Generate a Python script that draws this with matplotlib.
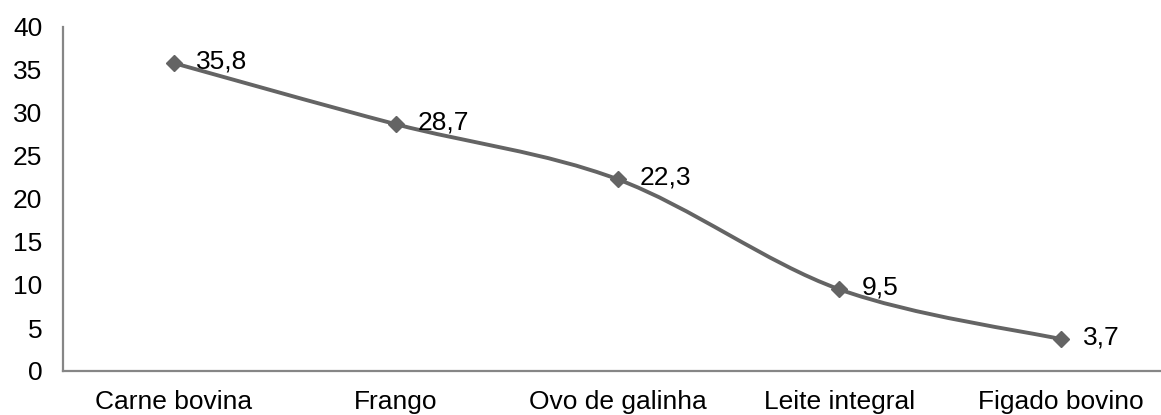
"""Line chart: smoothed series with value labels."""

import matplotlib

matplotlib.use("Agg")
import matplotlib.pyplot as plt
import numpy as np
from matplotlib.patches import PathPatch
from matplotlib.path import Path

plt.rcParams["font.family"] = ["Liberation Sans", "DejaVu Sans"]

categories = ["Carne bovina", "Frango", "Ovo de galinha", "Leite integral", "Figado bovino"]
values = [35.8, 28.7, 22.3, 9.5, 3.7]
value_labels = ["35,8", "28,7", "22,3", "9,5", "3,7"]

LINE = "#646464"
SPINE = "#868686"
FS = 19

fig = plt.figure(figsize=(11.61, 4.15), dpi=100)
ax = fig.add_axes([63 / 1161, 1 - 371 / 415, (1172 - 63) / 1161, (371 - 27) / 415])

x = np.arange(len(values), dtype=float)
y = np.array(values, dtype=float)

# Excel-style smoothing: cubic Bezier through points (Catmull-Rom controls)
verts = [(x[0], y[0])]
codes = [Path.MOVETO]
n = len(x)
for i in range(n - 1):
    p0 = np.array([x[max(i - 1, 0)], y[max(i - 1, 0)]])
    p1 = np.array([x[i], y[i]])
    p2 = np.array([x[i + 1], y[i + 1]])
    p3 = np.array([x[min(i + 2, n - 1)], y[min(i + 2, n - 1)]])
    c1 = p1 + (p2 - p0) / 6
    c2 = p2 - (p3 - p1) / 6
    verts += [tuple(c1), tuple(c2), tuple(p2)]
    codes += [Path.CURVE4] * 3
ax.add_patch(PathPatch(Path(verts, codes), facecolor="none", edgecolor=LINE, lw=2.8,
                       capstyle="round", joinstyle="round", zorder=2))
ax.plot(x, y, linestyle="none", marker="D", markersize=8, color=LINE, zorder=3)

for xi, yi, lab in zip(x, y, value_labels):
    ax.annotate(lab, (xi, yi), xytext=(16, 1), textcoords="offset points",
                ha="left", va="center", fontsize=FS, color="black")

ax.set_xlim(-0.5, n - 0.5)
ax.set_ylim(0, 40)
ax.set_yticks(range(0, 41, 5))
ax.set_xticks(x, categories)
ax.tick_params(axis="both", length=0, labelsize=FS, colors="black")
ax.tick_params(axis="y", pad=15)
ax.tick_params(axis="x", pad=13.5)
for side in ("top", "right"):
    ax.spines[side].set_visible(False)
for side in ("left", "bottom"):
    ax.spines[side].set_color(SPINE)
    ax.spines[side].set_linewidth(1.6)

fig.savefig("out.png", dpi=100)
